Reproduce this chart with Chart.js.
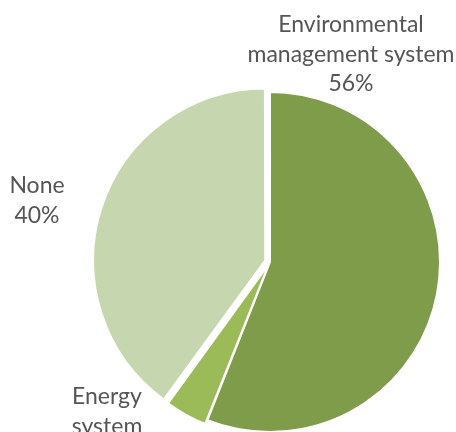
<!DOCTYPE html>
<html>
<head>
<meta charset="utf-8">
<script src="https://cdn.jsdelivr.net/npm/chart.js@4.4.1/dist/chart.umd.min.js"></script>
<style>
  html, body { margin: 0; padding: 0; background: #fff; }
  #wrap { width: 456px; height: 432px; }
</style>
</head>
<body>
<div id="wrap"><canvas id="myChart" width="456" height="432"></canvas></div>
<script>
// categorias y porcentajes de cada porcion
const categorias = [['Environmental', 'management system'], ['Energy', 'system'], ['None']]
const valores = [56, 4, 40]
const colores = ['#7f9c4a', '#9bbb59', '#c6d6ae']
const separacion = [0, 10, 20]   // cuanto sale cada porcion del centro

// donde va el texto de cada porcion (centro x, linea base de la primera linea)
const posEtiquetas = [[351, 32], [107, 404], [37, 193]]
const altoLinea = 29.5

// dibuja las etiquetas de las porciones con su porcentaje
const etiquetas = {
    id: 'etiquetas',
    afterDraw(chart) {
        const ctx = chart.ctx
        const total = valores.reduce((a, b) => a + b, 0)
        ctx.save()
        ctx.font = '23px Lato, "Open Sans", sans-serif'
        ctx.fillStyle = '#555555'
        ctx.textAlign = 'center'
        ctx.textBaseline = 'alphabetic'
        categorias.forEach((lineas, i) => {
            const textos = lineas.concat([Math.round(valores[i] / total * 100) + '%'])
            const [x, y] = posEtiquetas[i]
            textos.forEach((t, k) => ctx.fillText(t, x, y + k * altoLinea))
        })
        ctx.restore()
    }
}

function grafico_torta() {
    const ctx = document.getElementById('myChart')
    new Chart(ctx, {
        type: 'pie',
        data: {
            labels: categorias.map(c => c.join(' ')),
            datasets: [{
                data: valores,
                backgroundColor: colores,
                borderColor: '#ffffff',
                borderWidth: 2,
                offset: separacion
            }]
        },
        options: {
            responsive: false,
            animation: false,
            events: [],
            radius: 170,
            layout: { padding: { left: 84, right: 0, top: 92, bottom: 0 } },
            plugins: {
                legend: { display: false },
                tooltip: { enabled: false }
            }
        },
        plugins: [etiquetas]
    })
}

grafico_torta()
</script>
</body>
</html>
